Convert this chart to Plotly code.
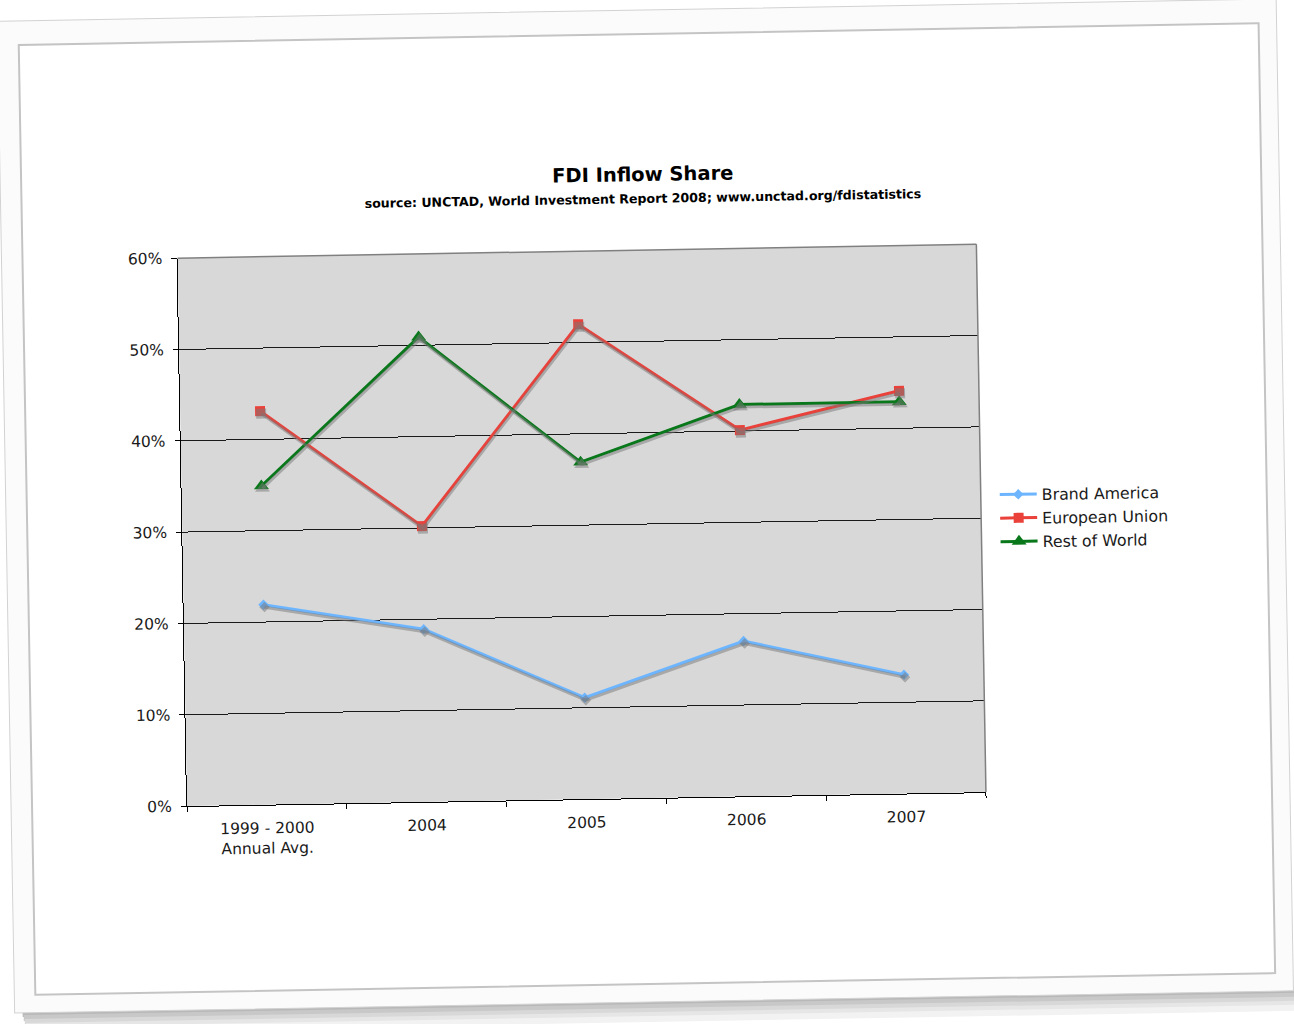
import plotly.graph_objects as go

# ---- data -------------------------------------------------------------
categories = ["1999 - 2000<br>Annual Avg.", "2004", "2005", "2006", "2007"]
brand_america = [21.9, 18.9, 11.1, 17.0, 13.0]
european_union = [43.1, 30.2, 52.0, 40.1, 44.1]
rest_of_world = [34.9, 50.9, 36.9, 42.9, 42.9]
y_tick_values = [0, 10, 20, 30, 40, 50, 60]
y_tick_labels = ["0%", "10%", "20%", "30%", "40%", "50%", "60%"]

series_names = ["Brand America", "European Union", "Rest of World"]
series_values = [brand_america, european_union, rest_of_world]
series_colors = ["#6DB6FF", "#EA423B", "#08781A"]
series_symbols = ["diamond", "square", "triangle-up"]
series_sizes = [8, 10, 13]

# ---- page geometry (pixels) --------------------------------------------
W, H = 1294, 1024
L, R, T, B = 182, 313, 250, 226
PW, PH = W - L - R, H - T - B
FONT = "DejaVu Sans"


def px_x(px):
    return (px - L) / PW


def px_y(py):
    return (H - B - py) / PH


fig = go.Figure()

# soft drop shadow under every line, drawn on slightly shifted overlay axes
for vals, sym, size in zip(series_values, series_symbols, series_sizes):
    fig.add_trace(go.Scatter(
        x=categories, y=vals, xaxis="x2", yaxis="y2",
        mode="lines+markers", showlegend=False, hoverinfo="skip",
        line=dict(color="rgba(120,120,120,0.5)", width=3),
        marker=dict(symbol=sym, size=size, color="rgba(120,120,120,0.5)"),
    ))

for name, vals, col, sym, size in zip(series_names, series_values,
                                      series_colors, series_symbols,
                                      series_sizes):
    fig.add_trace(go.Scatter(
        x=categories, y=vals, name=name, mode="lines+markers",
        line=dict(color=col, width=3),
        marker=dict(symbol=sym, size=size, color=col),
    ))

# shadow offsets: ~1px right, ~2.5px down
dx = 1.0 * 5 / PW
dy = 2.5 * 60 / PH

shapes = []
# bottom drop shadow of the sheet
for i, c in enumerate(["#b8b8b8", "#c8c8c8", "#d8d8d8", "#e6e6e6", "#f2f2f2"]):
    shapes.append(dict(type="rect", xref="paper", yref="paper", layer="below",
                       x0=px_x(14 + i), x1=px_x(1290 - i),
                       y0=px_y(1000 + 4 * i), y1=px_y(1006 + 4 * i),
                       line=dict(width=0), fillcolor=c))
# the sheet and its inner frame
shapes.append(dict(type="rect", xref="paper", yref="paper", layer="below",
                   x0=px_x(6), x1=px_x(1285), y0=px_y(10), y1=px_y(1002),
                   line=dict(color="#d2d2d2", width=1), fillcolor="#fbfbfb"))
shapes.append(dict(type="rect", xref="paper", yref="paper", layer="below",
                   x0=px_x(27), x1=px_x(1267), y0=px_y(34), y1=px_y(984),
                   line=dict(color="#c4c4c4", width=2), fillcolor="white"))
# grey plot-area fill (sits above the sheet, below grid and data)
shapes.append(dict(type="rect", xref="paper", yref="paper", layer="below",
                   x0=0, x1=1, y0=0, y1=1,
                   line=dict(width=0), fillcolor="#d8d8d8"))
# grey top and right border of the plot area
shapes.append(dict(type="line", xref="paper", yref="paper",
                   x0=0, x1=1, y0=1, y1=1, line=dict(color="#808080", width=1.5)))
shapes.append(dict(type="line", xref="paper", yref="paper",
                   x0=1, x1=1, y0=0, y1=1, line=dict(color="#808080", width=1.5)))

annotations = [
    dict(text="<b>FDI Inflow Share</b>", xref="paper", yref="paper",
         x=px_x(648), y=px_y(174), xanchor="center", yanchor="middle",
         showarrow=False, borderpad=0,
         font=dict(family=FONT, size=19.5, color="black")),
    dict(text="<b>source: UNCTAD, World Investment Report 2008; www.unctad.org/fdistatistics</b>",
         xref="paper", yref="paper", x=px_x(648), y=px_y(198),
         xanchor="center", yanchor="middle", showarrow=False, borderpad=0,
         font=dict(family=FONT, size=12.6, color="black")),
]

fig.update_layout(
    width=W, height=H,
    margin=dict(l=L, r=R, t=T, b=B, pad=0),
    paper_bgcolor="white", plot_bgcolor="#d8d8d8",
    font=dict(family=FONT, size=15, color="#1a1a1a"),
    showlegend=True,
    legend=dict(x=px_x(995), y=px_y(484), xanchor="left", yanchor="top",
                bgcolor="rgba(0,0,0,0)", font=dict(family=FONT, size=15.8),
                itemwidth=37, tracegroupgap=0),
    xaxis=dict(type="category", range=[-0.5, 4.5], tickson="boundaries",
               ticks="outside", ticklen=5, tickcolor="black",
               showline=True, linecolor="black", linewidth=1.2,
               showgrid=False, ticklabelstandoff=9,
               tickfont=dict(family=FONT, size=15.5, color="#1a1a1a")),
    yaxis=dict(range=[0, 60], tickvals=y_tick_values, ticktext=y_tick_labels,
               ticks="outside", ticklen=5, tickcolor="black",
               showline=True, linecolor="black", linewidth=1.2,
               showgrid=True, gridcolor="#1a1a1a", gridwidth=1,
               zeroline=False, ticklabelstandoff=6,
               tickfont=dict(family=FONT, size=15.5, color="#1a1a1a")),
    xaxis2=dict(type="category", overlaying="x", range=[-0.5 - dx, 4.5 - dx],
                visible=False, categoryarray=categories),
    yaxis2=dict(overlaying="y", range=[0 + dy, 60 + dy], visible=False),
    shapes=shapes,
    annotations=annotations,
)

# the sheet is shown with a slight tilt
tilt = (
    "var d=document.getElementById('{plot_id}');"
    "d.style.transform='rotate(-1deg)';"
    "d.style.transformOrigin='50% 50%';"
    "document.documentElement.style.overflow='hidden';"
    "document.body.style.overflow='hidden';"
)

fig.write_html("out.html", post_script=tilt)
